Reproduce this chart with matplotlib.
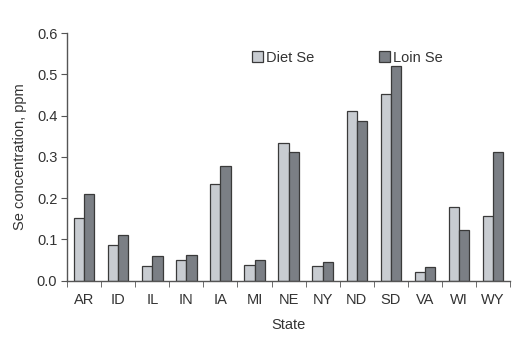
import numpy as np
import matplotlib.pyplot as plt

plt.rcParams['font.family'] = ['Liberation Sans', 'DejaVu Sans']

states = ["AR", "ID", "IL", "IN", "IA", "MI", "NE", "NY", "ND", "SD", "VA", "WI", "WY"]
diet_se = [0.151, 0.087, 0.035, 0.051, 0.235, 0.039, 0.333, 0.035, 0.411, 0.453, 0.021, 0.178, 0.157]
loin_se = [0.210, 0.111, 0.060, 0.062, 0.277, 0.051, 0.312, 0.045, 0.386, 0.520, 0.033, 0.123, 0.312]

text_col = "#333333"
fs = 10.5
x = np.arange(len(states))
width = 0.3

fig = plt.figure(figsize=(5.2, 3.37), dpi=100)
ax = fig.add_axes([0.129, 0.167, 0.852, 0.735])

ax.bar(x - width / 2, diet_se, width, label="Diet Se", color="#c8ccd1",
       edgecolor="#3a3a3a", linewidth=0.9)
ax.bar(x + width / 2, loin_se, width, label="Loin Se", color="#7b7f85",
       edgecolor="#3a3a3a", linewidth=0.9)

ax.set_xlim(-0.5, len(states) - 0.5)
ax.set_ylim(0, 0.6)
ax.set_yticks(np.arange(0, 0.61, 0.1))
ax.set_yticklabels([f"{v:.1f}" for v in np.arange(0, 0.61, 0.1)])

# state labels centred, tick marks between the groups
ax.set_xticks(x)
ax.set_xticklabels(states)
ax.set_xticks(np.arange(-0.5, len(states)), minor=True)
ax.tick_params(axis="x", which="major", length=0, pad=9)
ax.tick_params(axis="x", which="minor", length=4, direction="out", color="#555555")
ax.tick_params(axis="y", length=4, direction="out", color="#555555", pad=3)
ax.tick_params(labelsize=fs, labelcolor=text_col)

for side in ["top", "right"]:
    ax.spines[side].set_visible(False)
for side in ["left", "bottom"]:
    ax.spines[side].set_color("#555555")
    ax.spines[side].set_linewidth(1.0)

ax.set_ylabel("Se concentration, ppm", fontsize=fs, color=text_col, labelpad=7)
ax.set_xlabel("State", fontsize=fs, color=text_col, labelpad=8)

ax.legend(loc="center left", bbox_to_anchor=(0.387, 0.9), ncol=2, frameon=False,
          fontsize=fs, labelcolor=text_col, handlelength=0.8, handleheight=0.8,
          handletextpad=0.2, columnspacing=4.4)

fig.savefig("out.png", dpi=100)
